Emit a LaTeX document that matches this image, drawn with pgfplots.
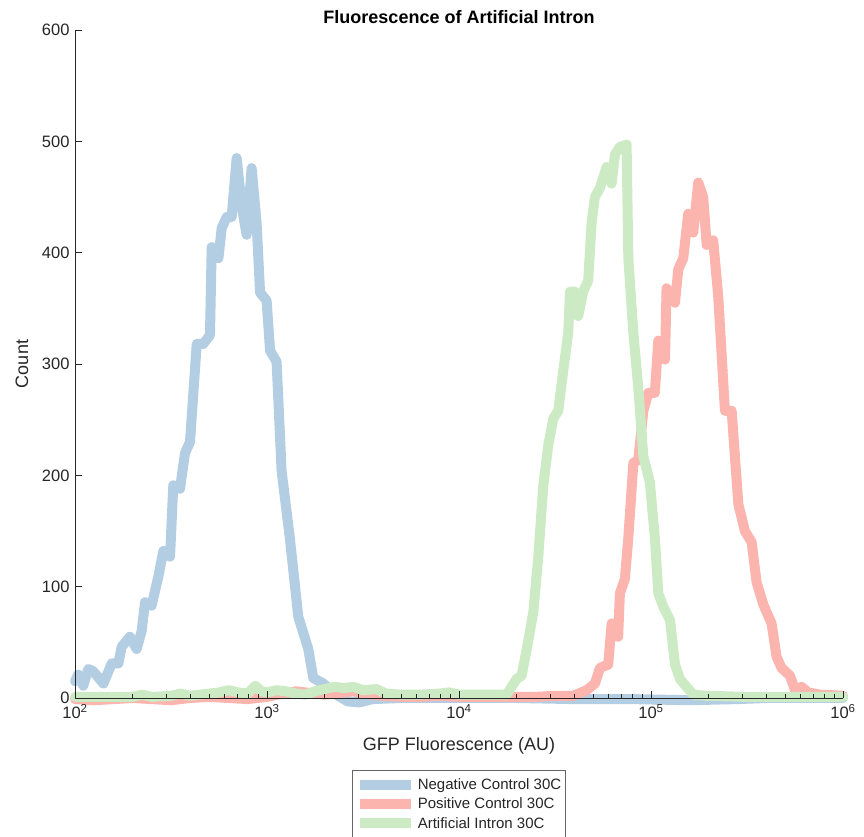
\documentclass[border=0pt]{standalone}
\usepackage{fontspec}
\setmainfont{Liberation Sans}
\usepackage{pgfplots}
\usepackage{pgfplotstable}
\pgfplotsset{compat=1.18}
\usetikzlibrary{calc}

\definecolor{negblue}{RGB}{179,205,227}
\definecolor{posred}{RGB}{251,180,174}
\definecolor{intgreen}{RGB}{204,235,197}
\definecolor{axgray}{RGB}{38,38,38}

% lx = log10 of GFP fluorescence, c = count
\pgfplotstableread{
lx c
2.000 15
2.017 21
2.043 11
2.069 26
2.095 24
2.148 13
2.191 31
2.226 31
2.243 46
2.286 55
2.321 44
2.347 60
2.365 86
2.399 83
2.434 109
2.460 132
2.495 127
2.512 191
2.547 188
2.573 220
2.599 230
2.634 318
2.668 318
2.703 326
2.712 405
2.747 395
2.764 422
2.790 432
2.816 432
2.842 485
2.868 442
2.894 416
2.920 476
2.946 426
2.964 364
2.998 357
3.016 312
3.050 302
3.076 204
3.120 142
3.163 73
3.215 44
3.241 18
3.293 13
3.328 8
3.370 2
3.420 -3
3.480 -4
3.550 -1
3.700 0
3.900 0
4.100 0
4.300 0
4.600 -1
4.900 -1
5.200 -2
5.450 -1
5.600 0
5.800 0
6.000 0
}\negdata

\pgfplotstableread{
lx c
2.000 -1
2.100 -2
2.200 -1
2.300 0
2.400 -1
2.500 -2
2.600 0
2.700 1
2.800 0
2.900 -1
3.000 1
3.050 3
3.100 4
3.150 6
3.200 5
3.250 4
3.300 3
3.350 4
3.400 5
3.450 6
3.500 4
3.550 3
3.600 2
3.700 1
3.800 1
3.900 2
4.000 1
4.100 1
4.200 1
4.300 1
4.400 1
4.500 2
4.595 2
4.665 7
4.708 13
4.734 27
4.777 30
4.795 67
4.829 55
4.838 94
4.864 107
4.882 144
4.908 211
4.934 214
4.960 258
4.986 274
5.020 274
5.038 321
5.073 304
5.081 368
5.125 355
5.142 385
5.168 395
5.194 435
5.220 418
5.246 463
5.272 450
5.290 407
5.324 411
5.350 361
5.385 258
5.420 258
5.455 174
5.489 150
5.524 140
5.550 104
5.585 84
5.628 67
5.654 37
5.680 27
5.724 20
5.750 7
5.784 10
5.819 5
5.880 3
6.000 2
}\posdata

\pgfplotstableread{
lx c
2.000 1
2.100 1
2.200 1
2.300 1
2.350 3
2.400 1
2.500 2
2.550 4
2.600 2
2.650 3
2.700 4
2.750 5
2.800 7
2.850 5
2.900 4
2.940 11
2.970 6
3.000 5
3.050 7
3.100 6
3.150 4
3.200 3
3.250 6
3.300 8
3.350 10
3.400 9
3.450 10
3.500 7
3.570 8
3.620 4
3.700 3
3.800 3
3.900 4
3.950 5
4.000 3
4.100 3
4.200 3
4.248 3
4.300 17
4.326 20
4.352 43
4.387 77
4.413 127
4.439 191
4.465 227
4.491 251
4.517 258
4.543 294
4.569 328
4.578 365
4.604 365
4.621 343
4.647 365
4.673 375
4.691 428
4.708 450
4.734 458
4.769 477
4.795 462
4.812 488
4.838 495
4.873 497
4.882 395
4.908 328
4.934 278
4.960 217
4.994 194
5.020 144
5.038 94
5.064 82
5.099 70
5.125 30
5.151 17
5.185 10
5.220 3
5.289 2
5.500 1
5.800 1
6.000 1
}\intdata

\begin{document}
\begin{tikzpicture}
\begin{axis}[
  name=ax,
  at={(0,0)}, anchor=south west,
  scale only axis, width=768bp, height=668bp,
  xmode=log, xmin=1e2, xmax=1e6,
  ymin=0, ymax=600,
  clip=false, axis on top,
  axis x line*=bottom, axis y line*=left,
  axis line style={-, draw=axgray, line width=0.8bp},
  tick align=inside,
  major tick length=7bp, minor tick length=4bp,
  tick style={draw=axgray, line width=0.8bp},
  xtick={1e2,1e3,1e4,1e5,1e6},
  xticklabels={10\textsuperscript{2},10\textsuperscript{3},10\textsuperscript{4},10\textsuperscript{5},10\textsuperscript{6}},
  minor xtick={200,300,400,500,600,700,800,900,2000,3000,4000,5000,6000,7000,8000,9000,20000,30000,40000,50000,60000,70000,80000,90000,200000,300000,400000,500000,600000,700000,800000,900000},
  ytick={0,100,200,300,400,500,600},
  /pgf/number format/assume math mode=true,
  ticklabel style={font=\fontsize{16.5bp}{18bp}\selectfont, text=axgray},
  yticklabel style={xshift=-2bp},
  xticklabel style={yshift=-3bp},
  xlabel={GFP Fluorescence (AU)},
  ylabel={Count},
  label style={font=\fontsize{18bp}{20bp}\selectfont, text=axgray},
  xlabel style={at={(0.5,0)}, anchor=center, yshift=-48bp},
  ylabel style={at={(0,0.5)}, anchor=center, xshift=0bp, yshift=53bp},
  title={Fluorescence of Artificial Intron},
  title style={font=\bfseries\fontsize{18bp}{20bp}\selectfont, at={(0.5,1)}, anchor=south, yshift=-3bp},
  legend style={at={(0.5,-0.108)}, anchor=north, draw=black!60, line width=0.8bp,
    font=\fontsize{15bp}{17bp}\selectfont, text=axgray, row sep=3bp,
    inner xsep=2bp, inner ysep=6bp, nodes={inner xsep=2bp}},
  legend cell align=left,
  legend image code/.code={\draw[#1, line cap=butt] (0bp,0bp) -- (51bp,0bp);},
  every axis plot/.append style={line width=10bp, line join=round, line cap=round},
]
\addplot[negblue] table[x expr=10^\thisrow{lx}, y=c] {\negdata};
\addlegendentry{Negative Control 30C}
\addplot[posred] table[x expr=10^\thisrow{lx}, y=c] {\posdata};
\addlegendentry{Positive Control 30C}
\addplot[intgreen] table[x expr=10^\thisrow{lx}, y=c] {\intdata};
\addlegendentry{Artificial Intron 30C}
\end{axis}
\pgfresetboundingbox
\path[use as bounding box] ($(ax.south west)+(-75bp,-139bp)$) rectangle ($(ax.north east)+(21bp,30bp)$);
\end{tikzpicture}
\end{document}
